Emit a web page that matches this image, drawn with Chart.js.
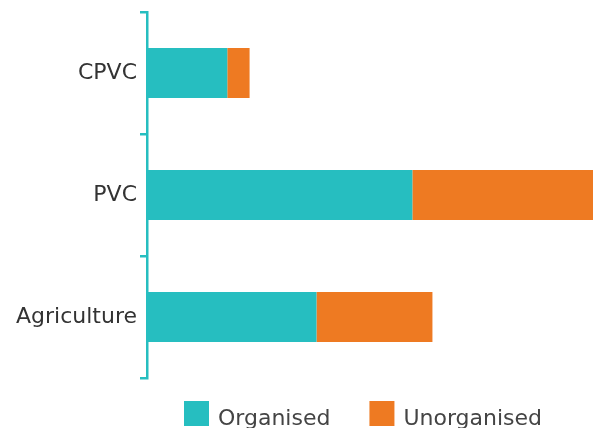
<!DOCTYPE html>
<html>
<head>
<meta charset="utf-8">
<script src="https://cdn.jsdelivr.net/npm/chart.js@4.4.0/dist/chart.umd.min.js"></script>
<style>
    html, body { margin: 0; padding: 0; background: #fff; }
</style>
</head>
<body>
<canvas id="chart" width="595" height="428"></canvas>
<script>
const categories = ['CPVC', 'PVC', 'Agriculture'];
const organised = [18, 59.5, 38];
const unorganised = [5, 40.5, 26];
const seriesNames = ['Organised', 'Unorganised'];
const seriesColors = ['#26BEC0', '#EE7A22'];

const TEAL = '#26BEC0';
const FONT = '"DejaVu Sans", "Liberation Sans", sans-serif';

// legend row under the plot, drawn from the datasets themselves
const bottomLegend = {
    id: 'bottomLegend',
    afterDraw(chart) {
        const ctx = chart.ctx;
        const box = 25, gap = 9, spacing = 39;
        const top = 401;
        let x = 184;
        ctx.save();
        ctx.font = '22px ' + FONT;
        ctx.textBaseline = 'alphabetic';
        ctx.textAlign = 'left';
        chart.data.datasets.forEach(ds => {
            ctx.fillStyle = ds.backgroundColor;
            ctx.fillRect(x, top, box, box);
            ctx.fillStyle = '#444';
            const tx = x + box + gap;
            ctx.fillText(ds.label, tx, top + 24);
            x = tx + ctx.measureText(ds.label).width + spacing;
        });
        ctx.restore();
    }
};

const ctx = document.getElementById('chart');
new Chart(ctx, {
    type: 'bar',
    data: {
        labels: categories,
        datasets: [
            {label: seriesNames[0], data: organised, backgroundColor: seriesColors[0]},
            {label: seriesNames[1], data: unorganised, backgroundColor: seriesColors[1]}
        ]
    },
    options: {
        indexAxis: 'y',
        responsive: false,
        animation: false,
        categoryPercentage: 0.82,
        barPercentage: 0.5,
        borderWidth: 0,
        layout: {padding: {top: 12, bottom: 50, right: 2, left: 0}},
        plugins: {
            legend: {display: false},
            tooltip: {enabled: false}
        },
        scales: {
            x: {
                display: false,
                stacked: true,
                min: 0,
                max: 100
            },
            y: {
                stacked: true,
                afterFit(scale) { scale.width = 147 },
                grid: {
                    offset: true,
                    drawOnChartArea: false,
                    drawTicks: true,
                    tickLength: 7,
                    color: TEAL,
                    lineWidth: 2.5
                },
                border: {color: TEAL, width: 2.5, z: 1},
                ticks: {
                    color: '#333',
                    padding: 3,
                    // small line height keeps the label box from pushing the plot down
                    font: {family: FONT, size: 22, lineHeight: 0.8}
                }
            }
        }
    },
    plugins: [bottomLegend]
});
</script>
</body>
</html>
